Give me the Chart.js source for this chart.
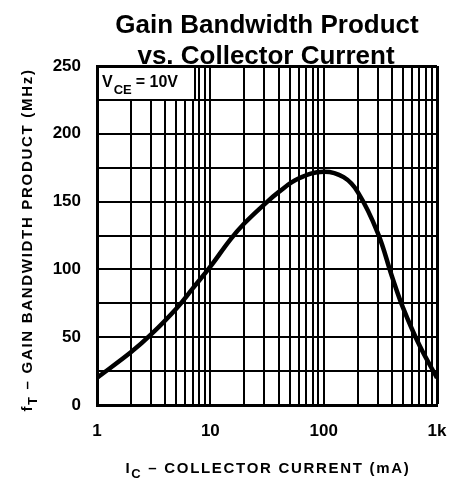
<!DOCTYPE html>
<html>
<head>
<meta charset="utf-8">
<script src="https://cdn.jsdelivr.net/npm/chart.js@4/dist/chart.umd.min.js"></script>
<style>
  html, body { margin: 0; padding: 0; background: #fff; }
  canvas { display: block; }
</style>
</head>
<body>
<canvas id="gbwChart" width="451" height="483"></canvas>
<script>
  // curve
  const currentMA = [1, 2, 3, 5, 7, 10, 15, 20, 30, 40, 60, 100, 150, 200, 300, 400, 500, 700, 1000];
  const gainBandwidthMHz = [20, 39, 52, 71, 86, 102, 122, 134, 148, 157, 167, 172, 168, 157, 127, 95, 72, 44, 20];

  const xGridValues = [1, 2, 3, 4, 5, 6, 7, 8, 9, 10, 20, 30, 40, 50, 60, 70, 80, 90,
                       100, 200, 300, 400, 500, 600, 700, 800, 900, 1000];
  const xTickLabels = { 1: "1", 10: "10", 100: "100", 1000: "1k" };
  const yLabelStep = 50;

  const sans = '"Liberation Sans", Arial, sans-serif';

  // title, axis titles with subscripts, condition box
  const textPlugin = {
    id: "textPlugin",
    afterDraw(chart) {
      const c = chart.ctx;
      const area = chart.chartArea;
      c.save();
      c.fillStyle = "#000";
      c.textAlign = "center";
      c.textBaseline = "alphabetic";
      c.font = "bold 26px " + sans;
      c.fillText("Gain Bandwidth Product", 267, 33);
      c.fillText("vs. Collector Current", 266, 64);

      // condition box
      c.fillStyle = "#fff";
      c.fillRect(area.left + 2, area.top + 2, 96, 31);
      c.fillStyle = "#000";
      c.fillRect(area.left + 97, area.top, 2, 34);
      c.textAlign = "left";
      let x = 102;
      c.font = "bold 16px " + sans;
      c.fillText("V", x, 87);
      x += c.measureText("V").width + 1;
      c.font = "bold 13px " + sans;
      c.fillText("CE", x, 94);
      x += c.measureText("CE").width + 4;
      c.font = "bold 16px " + sans;
      c.fillText("= 10V", x, 87);

      // x axis title
      drawSubTitle(c, "I", "C", " \u2013 COLLECTOR CURRENT (mA)", 268, 473);

      // y axis title, rotated
      c.translate(32, 240);
      c.rotate(-Math.PI / 2);
      drawSubTitle(c, "f", "T", " \u2013 GAIN BANDWIDTH PRODUCT (MHz)", 0, 0);
      c.restore();
    }
  };

  function drawSubTitle(c, main, sub, rest, cx, baseY) {
    c.letterSpacing = "1.7px";
    c.font = "bold 15px " + sans;
    const w1 = c.measureText(main).width;
    const w3 = c.measureText(rest).width;
    c.font = "bold 13px " + sans;
    const w2 = c.measureText(sub).width;
    let x = cx - (w1 + w2 + w3) / 2;
    c.textAlign = "left";
    c.font = "bold 15px " + sans;
    c.fillText(main, x, baseY);
    x += w1;
    c.font = "bold 13px " + sans;
    c.fillText(sub, x, baseY + 5);
    x += w2;
    c.font = "bold 15px " + sans;
    c.fillText(rest, x, baseY);
    c.letterSpacing = "0px";
  }

  const ctx = document.getElementById("gbwChart").getContext("2d");

  new Chart(ctx, {
    type: "line",
    data: {
      datasets: [{
        data: currentMA.map((v, i) => ({ x: v, y: gainBandwidthMHz[i] })),
        borderColor: "#000",
        borderWidth: 4.5,
        pointRadius: 0,
        tension: 0.4,
        fill: false
      }]
    },
    options: {
      responsive: false,
      animation: false,
      layout: { autoPadding: false, padding: { top: 66, right: 14, left: 0, bottom: 0 } },
      plugins: {
        legend: { display: false },
        tooltip: { enabled: false },
        title: { display: false }
      },
      scales: {
        x: {
          type: "logarithmic",
          min: 1,
          max: 1000,
          afterBuildTicks: scale => {
            scale.ticks = xGridValues.map(v => ({ value: v, major: v in xTickLabels }));
          },
          afterFit: scale => {
            scale.height = 78;
            scale.paddingLeft = 0;
            scale.paddingRight = 0;
          },
          border: { color: "#000", width: 3 },
          grid: {
            color: "#000",
            lineWidth: c => (c.tick && c.tick.value === 1000 ? 3 : 2),
            drawTicks: false
          },
          ticks: {
            autoSkip: false,
            maxRotation: 0,
            padding: 16,
            color: "#000",
            font: { family: sans, size: 17, weight: "bold" },
            callback: value => xTickLabels[value] || ""
          }
        },
        y: {
          min: 0,
          max: 250,
          afterFit: scale => {
            scale.width = 97;
            scale.paddingTop = 0;
            scale.paddingBottom = 0;
          },
          border: { color: "#000", width: 3 },
          grid: {
            color: "#000",
            lineWidth: c => (c.tick && c.tick.value === 250 ? 3 : 2),
            drawTicks: false
          },
          ticks: {
            stepSize: 25,
            padding: 16,
            color: "#000",
            font: { family: sans, size: 17, weight: "bold" },
            callback: value => (value % yLabelStep === 0 ? String(value) : "")
          }
        }
      }
    },
    plugins: [textPlugin]
  });
</script>
</body>
</html>
